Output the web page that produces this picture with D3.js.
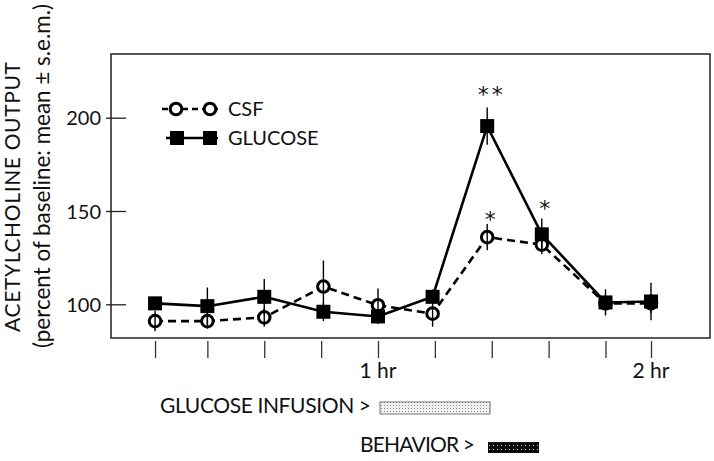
<!DOCTYPE html>
<html>
<head>
<meta charset="utf-8">
<script src="https://cdn.jsdelivr.net/npm/d3@7"></script>
<style>
  body { margin: 0; background: #fff; }
  text { font-family: Lato, "Open Sans", sans-serif; fill: #111; }
</style>
</head>
<body>
<div id="chart"></div>
<script>
// sampling times in minutes
const TIMES = [11, 22.5, 35, 48, 60, 72, 84, 96, 110, 120];
const TICK_TIMES = [11, 22.5, 35, 47.5, 60, 72.5, 85, 97.5, 110, 120];
const X_LABELS = [{t: 60, label: "1 hr"}, {t: 120, label: "2 hr"}];
const Y_TICKS = [100, 150, 200];

// percent of baseline, mean and s.e.m.
const CSF = [91, 91, 93, 109.5, 99.5, 95, 136, 132, 100.5, 100.5];
const CSF_SEM = [5.5, 4, 5, 14, 9, 7, 7, 5, 4, 5];
const GLUCOSE = [100.5, 99, 104, 96, 93.5, 104, 195.5, 137.5, 101, 101.5];
const GLUCOSE_SEM = [3.5, 10, 9.5, 5, 4, 4, 10, 8.5, 7, 10];

// significance marks: sample index, level (percent) where the mark sits, text
const MARKS = [
  {i: 6, at: 215, text: "* *"},
  {i: 7, at: 154, text: "*"},
  {i: 6, at: 148, text: "*"}
];

const FRAME_WIDTH = 714;
const FRAME_HEIGHT = 461;
const BOX = {left: 111, top: 54, right: 710, bottom: 338};

const svg = d3.select("#chart")
  .append("svg")
    .attr("width", FRAME_WIDTH)
    .attr("height", FRAME_HEIGHT);

svg.append("rect").attr("width", FRAME_WIDTH).attr("height", FRAME_HEIGHT).attr("fill", "#fff");

// scales (absolute page coordinates)
const X_SCALE = d3.scaleLinear().domain([60, 120]).range([378, 651]);
const Y_SCALE = d3.scaleLinear().domain([100, 200]).range([304.3, 117.7]);

// patterns for the two timing bars
const defs = svg.append("defs");
const p1 = defs.append("pattern").attr("id", "lightdots")
  .attr("patternUnits", "userSpaceOnUse").attr("width", 3).attr("height", 3);
p1.append("rect").attr("width", 3).attr("height", 3).attr("fill", "#f2f2f2");
p1.append("rect").attr("width", 1).attr("height", 1).attr("fill", "#888");
const p2 = defs.append("pattern").attr("id", "darkdots")
  .attr("patternUnits", "userSpaceOnUse").attr("width", 4).attr("height", 4);
p2.append("rect").attr("width", 4).attr("height", 4).attr("fill", "#0a0a0a");
p2.append("rect").attr("x", 1).attr("y", 1).attr("width", 1).attr("height", 1).attr("fill", "#bbb");

// plot frame
svg.append("rect")
  .attr("x", BOX.left).attr("y", BOX.top)
  .attr("width", BOX.right - BOX.left).attr("height", BOX.bottom - BOX.top)
  .attr("fill", "none").attr("stroke", "#222").attr("stroke-width", 1.5);

// y axis: ticks crossing the frame edge
const yAxis = svg.append("g")
  .attr("transform", "translate(" + (BOX.left + 15) + ",0)")
  .call(d3.axisLeft(Y_SCALE).tickValues(Y_TICKS).tickSize(20).tickPadding(5));
yAxis.select(".domain").remove();
yAxis.selectAll("line").attr("stroke", "#222").attr("stroke-width", 1.3);
yAxis.selectAll("text").style("font-size", "20px").attr("dy", "0.36em");

// x axis: ticks hanging below the frame
const xAxis = svg.append("g")
  .attr("transform", "translate(0," + (BOX.bottom + 3) + ")")
  .call(d3.axisBottom(X_SCALE).tickValues(TICK_TIMES).tickSize(17).tickFormat(""));
xAxis.select(".domain").remove();
xAxis.selectAll("line").attr("stroke", "#333").attr("stroke-width", 1.3);

svg.selectAll(".xlab")
  .data(X_LABELS)
  .enter()
  .append("text")
    .attr("class", "xlab")
    .attr("x", (d) => { return X_SCALE(d.t); })
    .attr("y", 378)
    .attr("text-anchor", "middle")
    .style("font-size", "21px")
    .text((d) => { return d.label; });

// y axis titles
svg.append("text")
  .attr("transform", "translate(20,197) rotate(-90)")
  .attr("text-anchor", "middle")
  .attr("textLength", 270)
  .style("font-size", "21px")
  .text("ACETYLCHOLINE OUTPUT");
svg.append("text")
  .attr("transform", "translate(50,176) rotate(-90)")
  .attr("text-anchor", "middle")
  .attr("textLength", 344)
  .style("font-size", "22.5px")
  .text("(percent of baseline: mean \u00b1 s.e.m.)");

const csfData = TIMES.map((t, i) => ({t: t, v: CSF[i], e: CSF_SEM[i]}));
const gluData = TIMES.map((t, i) => ({t: t, v: GLUCOSE[i], e: GLUCOSE_SEM[i]}));

const line = d3.line()
  .x((d) => { return X_SCALE(d.t); })
  .y((d) => { return Y_SCALE(d.v); });

svg.append("path").datum(csfData)
  .attr("d", line).attr("fill", "none")
  .attr("stroke", "#000").attr("stroke-width", 2.6).attr("stroke-dasharray", "8,5");
svg.append("path").datum(gluData)
  .attr("d", line).attr("fill", "none")
  .attr("stroke", "#000").attr("stroke-width", 2.6);

// markers
svg.selectAll(".csf")
  .data(csfData)
  .enter()
  .append("circle")
    .attr("class", "csf")
    .attr("cx", (d) => { return X_SCALE(d.t); })
    .attr("cy", (d) => { return Y_SCALE(d.v); })
    .attr("r", 5.8)
    .attr("fill", "#fff").attr("stroke", "#000").attr("stroke-width", 3);

svg.selectAll(".glu")
  .data(gluData)
  .enter()
  .append("rect")
    .attr("class", "glu")
    .attr("x", (d) => { return X_SCALE(d.t) - 7; })
    .attr("y", (d) => { return Y_SCALE(d.v) - 7; })
    .attr("width", 14).attr("height", 14)
    .attr("fill", "#000");

// error bars on top
svg.selectAll(".err")
  .data(csfData.concat(gluData))
  .enter()
  .append("line")
    .attr("class", "err")
    .attr("x1", (d) => { return X_SCALE(d.t); })
    .attr("x2", (d) => { return X_SCALE(d.t); })
    .attr("y1", (d) => { return Y_SCALE(d.v + d.e); })
    .attr("y2", (d) => { return Y_SCALE(d.v - d.e); })
    .attr("stroke", "#000").attr("stroke-width", 1.4);

// significance asterisks
svg.selectAll(".sig")
  .data(MARKS)
  .enter()
  .append("text")
    .attr("class", "sig")
    .attr("x", (d) => { return X_SCALE(TIMES[d.i]) + 2; })
    .attr("y", (d) => { return Y_SCALE(d.at); })
    .attr("dy", "0.58em")
    .attr("text-anchor", "middle")
    .style("font-family", "'DejaVu Sans', sans-serif")
    .style("font-size", "22px")
    .style("letter-spacing", "-2px")
    .text((d) => { return d.text; });

// legend
const legend = svg.append("g");
legend.append("line").attr("x1", 162).attr("x2", 220).attr("y1", 109).attr("y2", 109)
  .attr("stroke", "#000").attr("stroke-width", 2.6).attr("stroke-dasharray", "6,4");
[176, 210].forEach((x) => {
  legend.append("circle").attr("cx", x).attr("cy", 109).attr("r", 5.8)
    .attr("fill", "#fff").attr("stroke", "#000").attr("stroke-width", 3);
});
legend.append("text").attr("x", 228).attr("y", 116).style("font-size", "20px").text("CSF");

legend.append("line").attr("x1", 166).attr("x2", 218).attr("y1", 138).attr("y2", 138)
  .attr("stroke", "#000").attr("stroke-width", 2.6);
[177, 210].forEach((x) => {
  legend.append("rect").attr("x", x - 7).attr("y", 131).attr("width", 14).attr("height", 14)
    .attr("fill", "#000");
});
legend.append("text").attr("x", 228).attr("y", 145).style("font-size", "20px").text("GLUCOSE");

// timing bars under the axis
svg.append("text").attr("x", 160).attr("y", 413)
  .attr("textLength", 211)
  .style("font-size", "21px")
  .text("GLUCOSE INFUSION >");
svg.append("rect").attr("x", 380).attr("y", 402).attr("width", 110).attr("height", 12)
  .attr("fill", "url(#lightdots)").attr("stroke", "#777").attr("stroke-width", 1);

svg.append("text").attr("x", 360).attr("y", 452)
  .attr("textLength", 115)
  .style("font-size", "21px")
  .text("BEHAVIOR >");
svg.append("rect").attr("x", 488).attr("y", 442).attr("width", 51).attr("height", 11)
  .attr("fill", "url(#darkdots)");
</script>
</body>
</html>
